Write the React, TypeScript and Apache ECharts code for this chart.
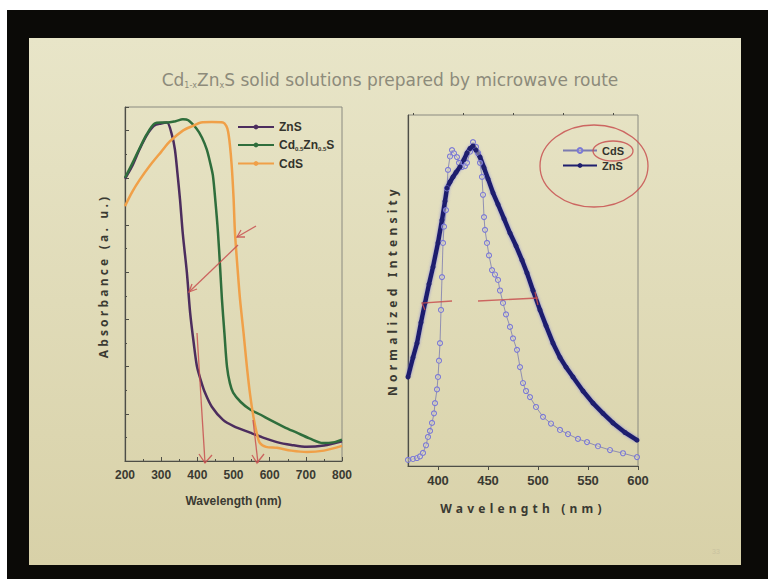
import React, { useEffect, useRef } from "react";
import * as echarts from "echarts";

// ---- Left chart: absorbance (arbitrary units) vs wavelength (nm)
const absTicks = [200, 300, 400, 500, 600, 700, 800];
const znsAbsX = [200, 220, 240, 260, 280, 300, 316, 330, 338, 345, 352, 360, 371, 380, 390, 399, 410, 421, 440, 471, 500, 546, 580, 620, 660, 703, 750, 800];
const znsAbsY = [5.98, 6.25, 6.6, 6.9, 7.1, 7.15, 7.17, 6.9, 6.6, 6.1, 5.55, 4.8, 4.0, 3.15, 2.5, 2.0, 1.7, 1.45, 1.15, 0.87, 0.74, 0.6, 0.5, 0.4, 0.34, 0.3, 0.33, 0.42];
const cdznAbsX = [200, 220, 240, 260, 282, 300, 316, 340, 360, 375, 398, 413, 426, 436, 443, 450, 457, 463, 468, 475, 482, 490, 499, 520, 546, 575, 601, 640, 675, 710, 747, 780, 800];
const cdznAbsY = [6.0, 6.3, 6.62, 6.92, 7.15, 7.17, 7.17, 7.2, 7.24, 7.22, 7.04, 6.85, 6.6, 6.3, 6.05, 5.5, 4.85, 4.1, 3.43, 2.7, 2.0, 1.65, 1.45, 1.25, 1.09, 0.98, 0.87, 0.72, 0.6, 0.48, 0.38, 0.4, 0.45];
const cdsAbsX = [200, 220, 240, 269, 300, 324, 360, 388, 410, 440, 471, 480, 485, 490, 495, 500, 504, 511, 518, 528, 537, 546, 555, 564, 573, 590, 620, 660, 703, 750, 800];
const cdsAbsY = [5.4, 5.7, 5.95, 6.26, 6.55, 6.77, 7.0, 7.1, 7.17, 7.18, 7.17, 7.1, 6.98, 6.7, 6.26, 5.6, 4.85, 4.1, 3.43, 2.7, 2.0, 1.4, 0.94, 0.6, 0.38, 0.3, 0.28, 0.22, 0.19, 0.22, 0.32];

// ---- Right chart: normalized PL intensity vs wavelength (nm)
const plTicks = [400, 450, 500, 550, 600];
const plMinorTicks = [375, 425, 475, 525, 575];
const znsPlX = [370, 375, 379, 383, 387, 391, 395, 400, 404, 407, 409, 412, 415, 418, 422, 426, 429, 432, 435, 438, 442, 446, 450, 455, 460, 466, 472, 478, 484, 489, 495, 502, 508, 515, 522, 528, 535, 545, 555, 565, 575, 587, 599];
const znsPlY = [0.279, 0.34, 0.385, 0.45, 0.511, 0.57, 0.624, 0.7, 0.771, 0.83, 0.871, 0.89, 0.906, 0.92, 0.937, 0.96, 0.981, 0.995, 1.003, 0.99, 0.968, 0.935, 0.9, 0.856, 0.82, 0.775, 0.73, 0.69, 0.645, 0.605, 0.55, 0.489, 0.44, 0.385, 0.34, 0.31, 0.279, 0.235, 0.197, 0.165, 0.135, 0.105, 0.081];
const cdsPlX = [370, 375, 379, 382, 385, 388, 390, 392, 394, 396, 397, 399, 400, 401, 402, 403, 404, 405, 406, 408, 409, 410, 412, 414, 416, 419, 421, 424, 427, 429, 432, 435, 438, 440, 442, 444, 445, 446, 447, 449, 451, 454, 457, 460, 462, 465, 468, 472, 475, 479, 482, 485, 488, 492, 498, 505, 513, 522, 530, 540, 549, 560, 572, 585, 599];
const cdsPlY = [0.019, 0.022, 0.025, 0.03, 0.041, 0.065, 0.091, 0.11, 0.135, 0.165, 0.197, 0.24, 0.279, 0.33, 0.385, 0.489, 0.592, 0.699, 0.75, 0.802, 0.87, 0.928, 0.97, 0.99, 0.98, 0.968, 0.95, 0.937, 0.94, 0.95, 0.985, 1.015, 1.0, 0.981, 0.95, 0.906, 0.85, 0.78, 0.74, 0.699, 0.66, 0.614, 0.6, 0.583, 0.55, 0.511, 0.475, 0.436, 0.4, 0.364, 0.31, 0.26, 0.235, 0.216, 0.185, 0.154, 0.133, 0.113, 0.1, 0.085, 0.075, 0.062, 0.05, 0.04, 0.028];

const zip = (xs: number[], ys: number[]) => xs.map((x, i) => [x, ys[i]]);

const RED = "rgba(200,80,80,0.85)";

export default function App() {
  const ref = useRef<HTMLDivElement>(null);
  useEffect(() => {
    if (!ref.current) return;
    const chart = echarts.init(ref.current, null, { renderer: "svg" });
    const axisLabelStyle = { color: "#3a3a32", fontWeight: "bold" as const, fontFamily: "Liberation Sans", fontSize: 12 };
    const red = (points: number[][]) => ({ type: "polyline", z: 100, shape: { points }, style: { stroke: RED, lineWidth: 1.3, fill: "none" } });
    const option: any = {
      animation: false,
      backgroundColor: "#ffffff",
      graphic: [
        { type: "rect", z: -10, shape: { x: 7, y: 10, width: 761, height: 569 }, style: { fill: "#0b0a07" } },
        {
          type: "rect", z: -9, shape: { x: 29, y: 38, width: 712, height: 527 },
          style: {
            fill: { type: "linear", x: 0, y: 0, x2: 0, y2: 1, colorStops: [{ offset: 0, color: "#e8e5c8" }, { offset: 1, color: "#d8d1a8" }] },
          },
        },
        {
          type: "text", z: 5, x: 390, y: 80,
          style: {
            text: "{a|Cd}{s|1-x}{a|Zn}{s|x}{a|S solid solutions prepared by microwave route}",
            align: "center", verticalAlign: "middle",
            rich: {
              a: { fontSize: 17, fontFamily: "DejaVu Sans", fill: "#8d8b7b", fontWeight: "normal" },
              s: { fontSize: 8, fontFamily: "DejaVu Sans", fill: "#8d8b7b", padding: [10, 0, 0, 0] },
            },
          },
        },
        { type: "text", z: 5, x: 712, y: 548, style: { text: "33", fontSize: 7, fill: "#c9c2a0", fontFamily: "Liberation Sans" } },
        // hand-drawn annotations, left
        red([[189, 292], [238, 245]]),
        red([[197, 289], [189, 292], [192, 284]]),
        red([[237, 237], [256, 226]]),
        red([[245, 237], [237, 237], [241, 230]]),
        red([[197, 333], [205, 463]]),
        red([[199, 454], [205, 463], [212, 455]]),
        red([[253, 420], [258, 463]]),
        red([[252, 455], [257, 463], [264, 454]]),
        // hand-drawn annotations, right
        red([[425, 310], [422, 303], [452, 301]]),
        red([[478, 301], [538, 298]]),
        red([[535, 292], [538, 305]]),
        { type: "ellipse", z: 100, shape: { cx: 594, cy: 166, rx: 54, ry: 41 }, style: { stroke: RED, lineWidth: 1.3, fill: "none" } },
        { type: "ellipse", z: 100, shape: { cx: 613, cy: 151, rx: 20, ry: 10 }, style: { stroke: RED, lineWidth: 1.3, fill: "none" } },
      ],
      legend: [
        {
          data: ["ZnS", "Cd0.5Zn0.5S", "CdS"],
          orient: "vertical", left: 232, top: 116, itemWidth: 36, itemHeight: 6, itemGap: 6,
          formatter: (n: string) => (n === "Cd0.5Zn0.5S" ? "{a|Cd}{s|0.5}{a|Zn}{s|0.5}{a|S}" : "{a|" + n + "}"),
          textStyle: {
            rich: {
              a: { fontSize: 12, fontWeight: "bold", color: "#33332c", fontFamily: "Liberation Sans" },
              s: { fontSize: 6, fontWeight: "bold", color: "#33332c", fontFamily: "Liberation Sans", padding: [7, 0, 0, 0] },
            },
          },
        },
        {
          data: ["CdS ", "ZnS "],
          orient: "vertical", left: 557, top: 140, itemWidth: 34, itemHeight: 6, itemGap: 4,
          textStyle: { fontSize: 11, fontWeight: "bold", color: "#33332c", fontFamily: "Liberation Sans" },
        },
      ],
      grid: [
        { left: 125, top: 107, width: 217, height: 354, show: true, borderColor: "#8a8a80", borderWidth: 1, backgroundColor: "transparent" },
        { left: 408, top: 115, width: 230, height: 351, show: true, borderColor: "#8a8a80", borderWidth: 1, backgroundColor: "transparent" },
      ],
      xAxis: [
        {
          gridIndex: 0, type: "value", min: absTicks[0], max: absTicks[absTicks.length - 1], interval: 100,
          axisLine: { lineStyle: { color: "#4e4e46", width: 1.2 } },
          axisTick: { inside: true, length: 4, lineStyle: { color: "#4e4e46" } },
          minorTick: { show: true, splitNumber: 2, length: 2, lineStyle: { color: "#4e4e46" } },
          axisLabel: { ...axisLabelStyle, margin: 8 },
          splitLine: { show: false },
          name: "Wavelength (nm)", nameLocation: "middle", nameGap: 34,
          nameTextStyle: { color: "#3a3a32", fontWeight: "bold", fontFamily: "Liberation Sans", fontSize: 12 },
        },
        {
          gridIndex: 1, type: "value", min: 370, max: 600,
          axisLine: { lineStyle: { color: "#4e4e46", width: 1.2 } },
          axisTick: { customValues: plTicks, length: 4, lineStyle: { color: "#4e4e46" } },
          axisLabel: { ...axisLabelStyle, fontSize: 13, customValues: plTicks, margin: 8 },
          splitLine: { show: false },
          name: "Wavelength (nm)", nameLocation: "middle", nameGap: 36,
          nameTextStyle: { color: "#3a3a32", fontWeight: "bold", fontFamily: "Noto Sans", fontSize: 12 },
        },
        {
          gridIndex: 1, type: "value", min: 370, max: 600,
          axisLine: { show: false },
          axisTick: { customValues: plMinorTicks, length: 2, lineStyle: { color: "#4e4e46" } },
          axisLabel: { show: false },
          splitLine: { show: false },
        },
      ],
      yAxis: [
        {
          gridIndex: 0, type: "value", min: 0, max: 7.5, interval: 1,
          axisLine: { show: true, lineStyle: { color: "#4e4e46", width: 1.2 } },
          axisTick: { show: true, inside: true, length: 4, lineStyle: { color: "#4e4e46" } },
          minorTick: { show: true, splitNumber: 2, length: 2, lineStyle: { color: "#4e4e46" } },
          axisLabel: { show: false },
          splitLine: { show: false },
          name: "Absorbance (a. u.)", nameLocation: "middle", nameGap: 16, nameRotate: 90,
          nameTextStyle: { color: "#3a3a32", fontWeight: "bold", fontFamily: "Open Sans", fontSize: 12, padding: [0, 0, 0, 16] },
        },
        {
          gridIndex: 1, type: "value", min: 0, max: 1.1,
          axisLine: { show: true, lineStyle: { color: "#4e4e46", width: 1.2 } },
          axisTick: { show: false },
          axisLabel: { show: false },
          splitLine: { show: false },
          name: "Normalized Intensity", nameLocation: "middle", nameGap: 10, nameRotate: 90,
          nameTextStyle: { color: "#3a3a32", fontWeight: "bold", fontFamily: "Noto Sans", fontSize: 12 },
        },
      ],
      series: [
        {
          name: "ZnS", type: "line", xAxisIndex: 0, yAxisIndex: 0, data: zip(znsAbsX, znsAbsY), smooth: 0.3,
          symbol: "circle", symbolSize: 3, showSymbol: false, color: "#4c2d5e", lineStyle: { width: 2.5, color: "#4c2d5e" },
        },
        {
          name: "Cd0.5Zn0.5S", type: "line", xAxisIndex: 0, yAxisIndex: 0, data: zip(cdznAbsX, cdznAbsY), smooth: 0.3,
          symbol: "circle", symbolSize: 3, showSymbol: false, color: "#2f6e3c", lineStyle: { width: 2.5, color: "#2f6e3c" },
        },
        {
          name: "CdS", type: "line", xAxisIndex: 0, yAxisIndex: 0, data: zip(cdsAbsX, cdsAbsY), smooth: 0.3,
          symbol: "circle", symbolSize: 3, showSymbol: false, color: "#f0a048", lineStyle: { width: 2.5, color: "#f0a048" },
        },
        {
          name: "CdS ", type: "line", xAxisIndex: 1, yAxisIndex: 1, data: zip(cdsPlX, cdsPlY),
          symbol: "circle", symbolSize: 5, color: "#7b79d6",
          itemStyle: { color: "rgba(232,229,200,0.4)", borderColor: "#7b79d6", borderWidth: 1.1 },
          lineStyle: { width: 0.8, color: "#7b7bb0" },
        },
        {
          name: "ZnS ", type: "line", xAxisIndex: 1, yAxisIndex: 1, data: zip(znsPlX, znsPlY),
          symbol: "circle", symbolSize: 5, color: "#1f1f6e",
          itemStyle: { color: "#1f1f6e" },
          lineStyle: { width: 4.5, color: "#1f1f6e", shadowColor: "rgba(110,110,220,0.7)", shadowBlur: 3 },
        },
      ],
    };
    chart.setOption(option);
    return () => chart.dispose();
  }, []);
  return (
    <>
      <style>{`
        text[style*="Noto Sans"] { letter-spacing: 4.2px; }
        text[style*="Open Sans"] { letter-spacing: 3.2px; }
      `}</style>
      <div ref={ref} style={{ position: "fixed", left: 0, top: 0, width: 768, height: 579 }} />
    </>
  );
}
